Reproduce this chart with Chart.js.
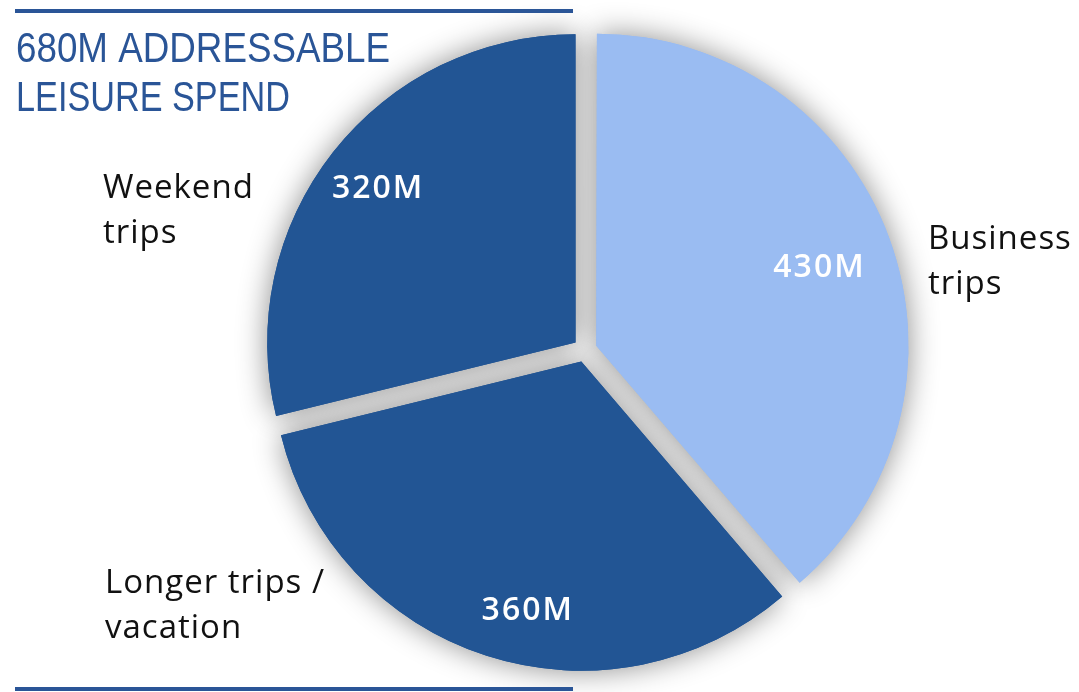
<!DOCTYPE html>
<html>
<head>
<meta charset="utf-8">
<script src="https://cdn.jsdelivr.net/npm/chart.js@4.4.1/dist/chart.umd.min.js"></script>
<style>
  html, body { margin: 0; padding: 0; background: #fff; }
  #wrap { position: relative; width: 1079px; height: 692px; }
</style>
</head>
<body>
<div id="wrap"><canvas id="pie"></canvas></div>
<script>
// chart data (clockwise from 12 o'clock)
const categories = ['Business trips', 'Longer trips / vacation', 'Weekend trips'];
const spend = [430, 360, 320];
const valueLabels = ['430M', '360M', '320M'];
const sliceColors = ['#9abcf2', '#225594', '#225594'];

const titleLines = ['680M ADDRESSABLE', 'LEISURE SPEND'];

// outside category labels, split in lines
const catLines = [['Business', 'trips'], ['Longer trips /', 'vacation'], ['Weekend', 'trips']];
const catPos = [[928, 249], [105, 593], [103, 198]];
// small hand nudges for the value labels (px)
const valueNudge = [[-6, 3], [20, 15], [-7, -6]];

const navy = '#2a5597';

// soft grey glow under the slices, drawn before the real fill
const shadowPlugin = {
  id: 'shadow',
  beforeDatasetsDraw(chart) {
    const ctx = chart.ctx;
    const meta = chart.getDatasetMeta(0);
    ctx.save();
    ctx.shadowColor = 'rgba(0,0,0,0.45)';
    ctx.shadowBlur = 30;
    meta.data.forEach(arc => arc.draw(ctx));
    ctx.restore();
  }
};

const textPlugin = {
  id: 'texts',
  afterDraw(chart) {
    const ctx = chart.ctx;
    const meta = chart.getDatasetMeta(0);
    ctx.save();

    // frame lines
    ctx.fillStyle = navy;
    ctx.fillRect(15, 9, 558, 4);
    ctx.fillRect(15, 687, 558, 4);

    // title
    ctx.font = '400 43px "Liberation Sans"';
    ctx.textAlign = 'left';
    ctx.textBaseline = 'alphabetic';
    ctx.fillText(titleLines[0], 16, 62, 374);
    ctx.fillText(titleLines[1], 16, 111, 274);

    // values inside slices
    ctx.fillStyle = '#fff';
    ctx.font = '600 32px "Open Sans"';
    ctx.textAlign = 'center';
    ctx.letterSpacing = '2px';
    meta.data.forEach((arc, i) => {
      const p = arc.getProps(['x', 'y', 'startAngle', 'endAngle', 'outerRadius']);
      const mid = (p.startAngle + p.endAngle) / 2;
      const d = p.outerRadius * 0.79 + arc.options.offset / 4;
      const x = p.x + Math.cos(mid) * d + valueNudge[i][0];
      const y = p.y + Math.sin(mid) * d + valueNudge[i][1];
      ctx.fillText(valueLabels[i], x + 1, y + 12);
    });

    // category labels
    ctx.fillStyle = '#111';
    ctx.font = '400 33px "Open Sans"';
    ctx.textAlign = 'left';
    ctx.letterSpacing = '1px';
    catLines.forEach((lines, i) => {
      lines.forEach((t, j) => {
        ctx.fillText(t, catPos[i][0], catPos[i][1] + j * 45);
      });
    });
    ctx.restore();
  }
};

const chart = new Chart(document.getElementById('pie'), {
  type: 'pie',
  data: {
    labels: categories,
    datasets: [{
      data: spend,
      backgroundColor: sliceColors,
      borderWidth: 0,
      offset: 48,
      hoverOffset: 0
    }]
  },
  options: {
    responsive: true,
    maintainAspectRatio: false,
    animation: false,
    layout: { padding: { top: 18, bottom: 10, left: 91, right: 0 } },
    plugins: {
      legend: { display: false },
      tooltip: { enabled: false }
    }
  },
  plugins: [shadowPlugin, textPlugin]
});
</script>
</body>
</html>
